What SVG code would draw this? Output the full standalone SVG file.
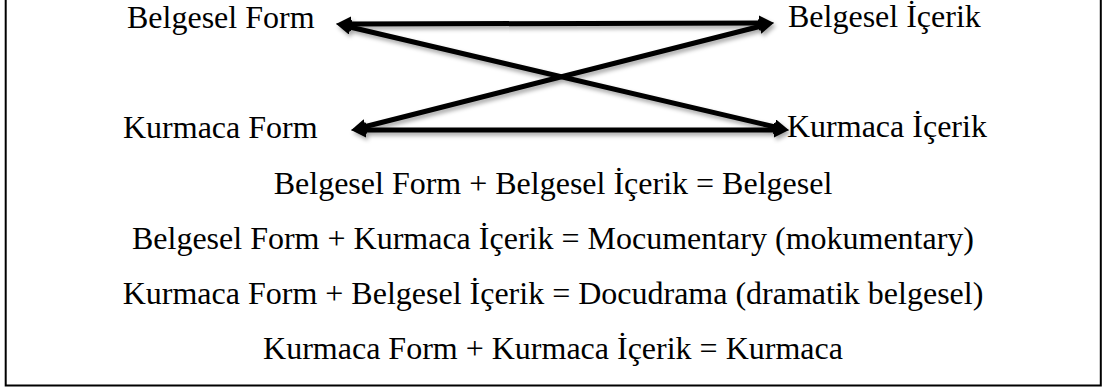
<svg xmlns="http://www.w3.org/2000/svg" width="1102" height="389" viewBox="0 0 1102 389">
<style>
text{font-family:"Liberation Serif","Times New Roman",serif;font-size:32px;fill:#000}
.c{text-anchor:middle}
.ln{stroke:#000;stroke-width:5;fill:none;marker-start:url(#ah);marker-end:url(#ah)}
.frame{fill:none;stroke:#000;stroke-width:2}
</style>
<defs>
<marker id="ah" markerUnits="userSpaceOnUse" markerWidth="17" markerHeight="16" refX="4" refY="7.5" orient="auto-start-reverse">
<path d="M0,0 L15,7.5 L0,15 z" fill="#000"/>
</marker>
<filter id="sh" x="-10%" y="-20%" width="120%" height="160%">
<feDropShadow dx="2" dy="3" stdDeviation="2" flood-color="#000" flood-opacity="0.35"/>
</filter>
</defs>
<rect width="1102" height="389" fill="#fff"/>
<path class="frame" d="M5.7 0 V385.5 H1100.8 V0"/>
<g id="connectors" filter="url(#sh)">
<path class="ln" d="M347 24 L763 23"/>
<path class="ln" d="M346.7 26.3 L778.3 127.7"/>
<path class="ln" d="M361.7 127.5 L763.3 25.5"/>
<path class="ln" d="M362 130 L778 130"/>
</g>
<g id="belgesel-form"><text x="127" y="28">Belgesel Form</text></g>
<g id="belgesel-icerik"><text x="788" y="27">Belgesel İçerik</text></g>
<g id="kurmaca-form"><text x="123" y="138">Kurmaca Form</text></g>
<g id="kurmaca-icerik"><text x="787" y="137">Kurmaca İçerik</text></g>
<g id="formulas">
<text class="c" x="553" y="194">Belgesel Form + Belgesel İçerik = Belgesel</text>
<text class="c" x="553" y="249">Belgesel Form + Kurmaca İçerik = Mocumentary (mokumentary)</text>
<text class="c" x="553" y="304">Kurmaca Form + Belgesel İçerik = Docudrama (dramatik belgesel)</text>
<text class="c" x="553" y="359">Kurmaca Form + Kurmaca İçerik = Kurmaca</text>
</g>
</svg>
